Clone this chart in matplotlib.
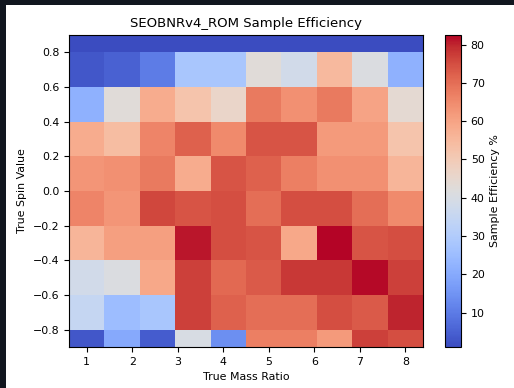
import numpy as np
import matplotlib
matplotlib.use("Agg")
import matplotlib.pyplot as plt
from matplotlib.patches import Rectangle

# grid centres (mass ratio along x, spin along y, top row first)
mass_ratio = [1.0, 1.78, 2.56, 3.33, 4.11, 4.89, 5.67, 6.44, 7.22, 8.0]
spin = [0.9, 0.7, 0.5, 0.3, 0.1, -0.1, -0.3, -0.5, -0.7, -0.9]

# sample efficiency in %, one row per spin value (top to bottom)
eff_09 = [1, 1, 1, 1, 1, 1, 1, 1, 1, 1]
eff_07 = [3, 5, 10, 28, 28, 43, 38, 55, 41, 22]
eff_05 = [22, 43, 58, 52, 46, 68, 64, 68, 60, 44]
eff_03 = [58, 54, 66, 72, 65, 74, 74, 62, 62, 52]
eff_01 = [63, 64, 68, 58, 74, 72, 67, 64, 64, 56]
eff_m01 = [66, 63, 76, 74, 75, 70, 75, 75, 70, 65]
eff_m03 = [56, 61, 61, 81, 75, 74, 59, 82.5, 74, 75]
eff_m05 = [38, 41, 59, 77, 71, 73, 78, 78, 82, 77]
eff_m07 = [35, 25, 28, 77, 72, 70, 70, 75, 73, 80]
eff_m09 = [3, 20, 4, 40, 14, 67, 67, 62, 77, 75]

efficiency = np.array([eff_09, eff_07, eff_05, eff_03, eff_01,
                       eff_m01, eff_m03, eff_m05, eff_m07, eff_m09])

fig = plt.figure(figsize=(5.14, 3.88), dpi=100)
fig.patch.set_facecolor('#11161f')
# white canvas inside the dark screenshot edge
fig.add_artist(Rectangle((6/514, 0), 1, 383/388, transform=fig.transFigure,
                         facecolor='white', edgecolor='none', zorder=-1))

ax = fig.add_axes([69/514, 41/388, 354/514, 312/388])
cax = fig.add_axes([445/514, 41/388, 16/514, 312/388])

mesh = ax.pcolormesh(mass_ratio, spin, efficiency, cmap='coolwarm',
                     shading='nearest')
ax.set_ylim(-0.9, 0.9)
ax.set_xticks(range(1, 9))
ax.set_yticks([-0.8, -0.6, -0.4, -0.2, 0.0, 0.2, 0.4, 0.6, 0.8])
ax.tick_params(labelsize=7.9)
ax.set_xlabel('True Mass Ratio', fontsize=7.9)
ax.set_ylabel('True Spin Value', fontsize=7.9)
ax.set_title('SEOBNRv4_ROM Sample Efficiency', fontsize=9.5)

cb = fig.colorbar(mesh, cax=cax)
cb.set_ticks([10, 20, 30, 40, 50, 60, 70, 80])
cb.ax.tick_params(labelsize=7.9)
cb.set_label('Sample Efficiency %', fontsize=7.9)

fig.savefig('out.png', dpi=100, facecolor=fig.get_facecolor())
